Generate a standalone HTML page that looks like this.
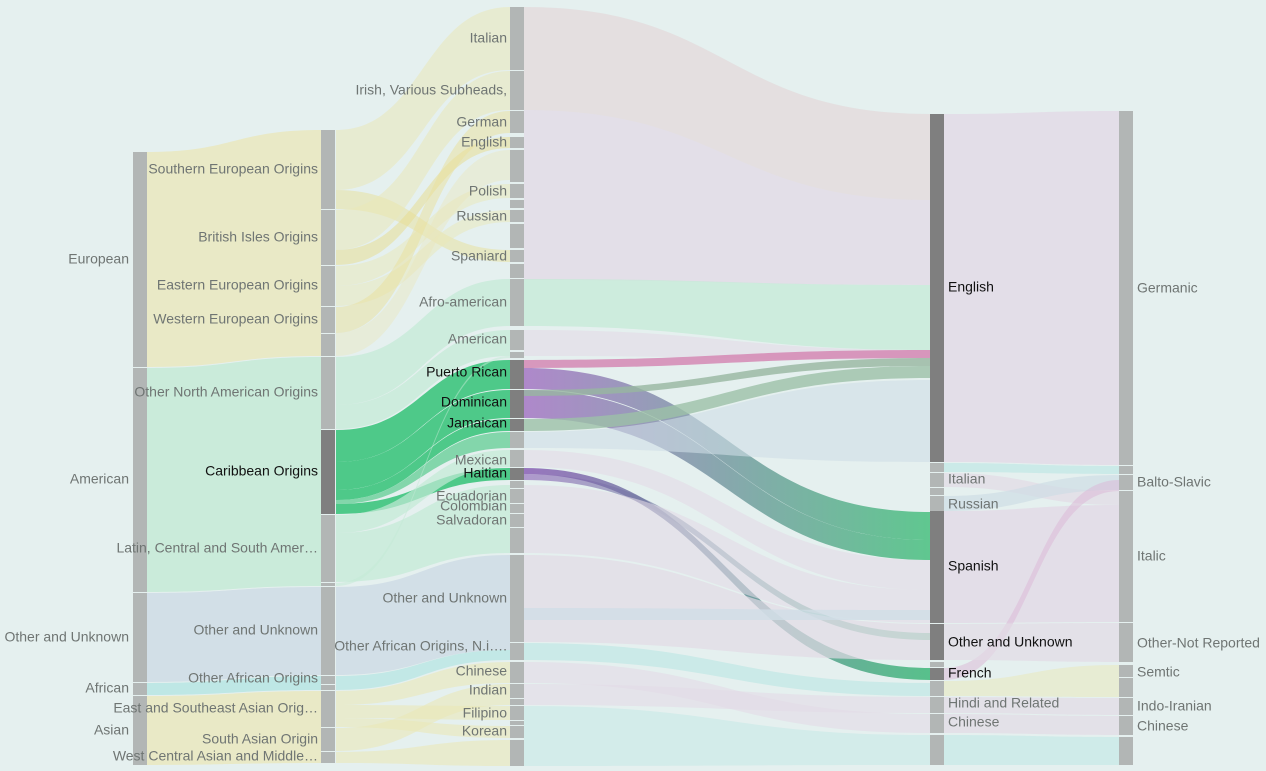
<!DOCTYPE html>
<html><head><meta charset="utf-8"><style>
html,body{margin:0;padding:0;background:#e5f0ef;}
svg{display:block}
text{font-family:"Liberation Sans",sans-serif;font-size:14px;fill:#6f7573;dominant-baseline:middle}
.b{fill:#111}
</style></head><body>
<svg id="s" width="1266" height="771" xmlns="http://www.w3.org/2000/svg">
<defs>
<linearGradient id="pg" x1="0" x2="1"><stop offset="0" stop-color="#a576c4"/><stop offset="1" stop-color="#48c07f"/></linearGradient>
<linearGradient id="pg2" x1="0" x2="1"><stop offset="0" stop-color="#8a5fb5"/><stop offset="1" stop-color="#3fb87a"/></linearGradient>
</defs>
<g id="L"></g><g id="N"></g><g id="T"></g>
</svg>
<script>
const NS="http://www.w3.org/2000/svg";
const L=document.getElementById('L'),N=document.getElementById('N'),T=document.getElementById('T');
function lk(x0,a0,b0,x1,a1,b1,c,o){const m=(x0+x1)/2;const p=document.createElementNS(NS,'path');
p.setAttribute('d',`M${x0},${a0}C${m},${a0} ${m},${a1} ${x1},${a1}L${x1},${b1}C${m},${b1} ${m},${b0} ${x0},${b0}Z`);
p.setAttribute('fill',c);p.setAttribute('fill-opacity',o);L.appendChild(p);}
function nd(x,y0,y1,dark){const r=document.createElementNS(NS,'rect');r.setAttribute('x',x);r.setAttribute('y',y0);r.setAttribute('width',14);r.setAttribute('height',y1-y0);r.setAttribute('fill',dark?'#7f7f7f':'#b2b6b5');N.appendChild(r);}
function tx(x,y,s,anchor,cls){const t=document.createElementNS(NS,'text');t.setAttribute('x',x);t.setAttribute('y',y);if(anchor)t.setAttribute('text-anchor',anchor);if(cls)t.setAttribute('class',cls);t.textContent=s;T.appendChild(t);}
const Y='#eae7b8',G='#c3ead5',B='#cfdde6',C='#b9e6e3',P='#e2dae6';
lk(147,152,367,321,130,356,Y,.75);
lk(147,368,592,321,357,586,G,.8);
lk(147,593,682,321,587,675,B,.9);
lk(147,683,695,321,676,690,C,.9);
lk(147,696,765,321,691,763,Y,.75);
lk(336,130,190,510,7,70,Y,.55);
lk(336,190,209,510,250,262,'#e7df9a',.5);
lk(336,210,250,510,71,110,Y,.55);
lk(336,250,265,510,137,148,'#e8dc8c',.5);
lk(336,266,286,510,184,198,Y,.5);
lk(336,286,306,510,210,222,Y,.5);
lk(336,307,333,510,111,133,'#eadf9c',.5);
lk(336,333,356,510,150,180,Y,.4);
lk(336,357,405,510,279,326,G,.7);
lk(336,405,429,510,330,356,G,.7);
lk(336,430,462,510,360,389,'#3dc47d',.9);
lk(336,462,490,510,390,418,'#3dc47d',.9);
lk(336,490,500,510,419,431,'#3dc47d',.9);
lk(336,500,504,510,432,448,'#5acb8e',.7);
lk(336,504,514,510,468,480,'#3dc47d',.9);
lk(336,515,533,510,450,467,G,.7);
lk(336,533,582,510,485,553,G,.7);
lk(336,583,586,510,356,358,G,.5);
lk(336,587,675,510,555,650,B,.9);
lk(336,676,690,510,650,660,C,.8);
lk(336,691,705,510,662,683,Y,.6);
lk(336,705,718,510,706,720,Y,.6);
lk(336,718,727,510,726,738,Y,.6);
lk(336,728,751,510,684,705,Y,.6);
lk(336,752,763,510,740,766,Y,.6);
lk(524,7,280,930,114,285,P,.75);
lk(524,7,110,930,114,200,Y,.15);
lk(524,279,326,930,285,350,G,.7);
lk(524,330,356,930,350,360,P,.6);
lk(524,360,368,930,350,358,'#d588b4',.85);
lk(524,368,389,930,512,540,'url(#pg)',.85);
lk(524,390,418,930,540,560,'url(#pg)',.85);
lk(524,390,396,930,358,366,'#97b6a0',.8);
lk(524,419,431,930,366,378,'#9cc0a8',.8);
lk(524,432,448,930,380,462,B,.6);
lk(524,450,467,930,560,590,P,.6);
lk(524,468,474,930,668,680,'url(#pg2)',.85);
lk(524,474,480,930,633,640,'url(#pg2)',.6);
lk(524,485,553,930,590,623,P,.6);
lk(524,555,642,930,624,660,P,.7);
lk(524,608,620,930,610,620,B,.8);
lk(524,643,660,930,683,696,C,.6);
lk(524,662,683,930,714,733,P,.6);
lk(524,684,705,930,697,713,P,.6);
lk(524,706,766,930,735,765,C,.4);
lk(944,114,462,1119,111,465,P,.8);
lk(944,463,472,1119,466,474,C,.6);
lk(944,473,487,1119,491,505,P,.7);
lk(944,496,511,1119,475,490,B,.7);
lk(944,511,623,1119,505,622,P,.8);
lk(944,668,680,1119,480,491,'#dcb6d6',.5);
lk(944,624,660,1119,623,662,P,.7);
lk(944,681,696,1119,665,697,Y,.5);
lk(944,697,713,1119,698,715,P,.7);
lk(944,714,733,1119,716,735,P,.7);
lk(944,735,765,1119,737,765,C,.5);
[[152,367],[368,592],[593,682],[683,695],[696,765]].forEach(a=>nd(133,a[0],a[1]));
[[130,209],[210,265],[266,306],[307,333],[334,356],[357,429],[515,582],[583,586],[587,675],[676,684],[685,690],[691,727],[728,751],[752,763]].forEach(a=>nd(321,a[0],a[1]));
nd(321,430,514,1);
[[7,70],[71,110],[111,133],[137,148],[150,182],[184,198],[200,208],[210,222],[224,248],[250,262],[264,278],[279,326],[330,350],[352,358],[432,448],[450,467],[481,488],[489,503],[504,513],[514,527],[528,553],[555,642],[643,660],[662,683],[684,698],[699,705],[706,720],[721,725],[726,738],[740,766]].forEach(a=>nd(510,a[0],a[1]));
[[360,389],[390,418],[419,431],[468,480]].forEach(a=>nd(510,a[0],a[1],1));
[[114,462],[511,623],[624,660],[668,680]].forEach(a=>nd(930,a[0],a[1],1));
[[463,472],[473,487],[488,495],[496,511],[662,667],[681,696],[697,713],[714,733],[735,765]].forEach(a=>nd(930,a[0],a[1]));
[[111,465],[466,474],[475,490],[491,622],[623,662],[665,677],[678,697],[698,715],[716,735],[737,765]].forEach(a=>nd(1119,a[0],a[1]));
tx(129,260,'European','end');tx(129,480,'American','end');tx(129,638,'Other and Unknown','end');tx(129,689,'African','end');tx(129,731,'Asian','end');
tx(318,170,'Southern European Origins','end');tx(318,238,'British Isles Origins','end');tx(318,286,'Eastern European Origins','end');tx(318,320,'Western European Origins','end');
tx(318,393,'Other North American Origins','end');tx(318,472,'Caribbean Origins','end','b');tx(318,549,'Latin, Central and South Amer…','end');
tx(318,631,'Other and Unknown','end');tx(318,679,'Other African Origins','end');tx(318,709,'East and Southeast Asian Orig…','end');tx(318,740,'South Asian Origin','end');tx(318,757,'West Central Asian and Middle…','end');
const c2=[[39,'Italian'],[91,'Irish, Various Subheads,'],[123,'German'],[143,'English'],[192,'Polish'],[217,'Russian'],[257,'Spaniard'],[303,'Afro-american'],[340,'American'],[461,'Mexican'],[497,'Ecuadorian'],[507,'Colombian'],[521,'Salvadoran'],[599,'Other and Unknown'],[647,'Other African Origins, N.i….'],[672,'Chinese'],[691,'Indian'],[714,'Filipino'],[732,'Korean']];
c2.forEach(a=>tx(507,a[0],a[1],'end'));
[[373,'Puerto Rican'],[403,'Dominican'],[424,'Jamaican'],[474,'Haitian']].forEach(a=>tx(507,a[0],a[1],'end','b'));
tx(948,288,'English',null,'b');tx(948,567,'Spanish',null,'b');tx(948,643,'Other and Unknown',null,'b');tx(948,674,'French',null,'b');
tx(948,480,'Italian');tx(948,505,'Russian');tx(948,704,'Hindi and Related');tx(948,723,'Chinese');
[[289,'Germanic'],[483,'Balto-Slavic'],[557,'Italic'],[644,'Other-Not Reported'],[673,'Semtic'],[707,'Indo-Iranian'],[727,'Chinese']].forEach(a=>tx(1137,a[0],a[1]));
</script>
</body></html>
